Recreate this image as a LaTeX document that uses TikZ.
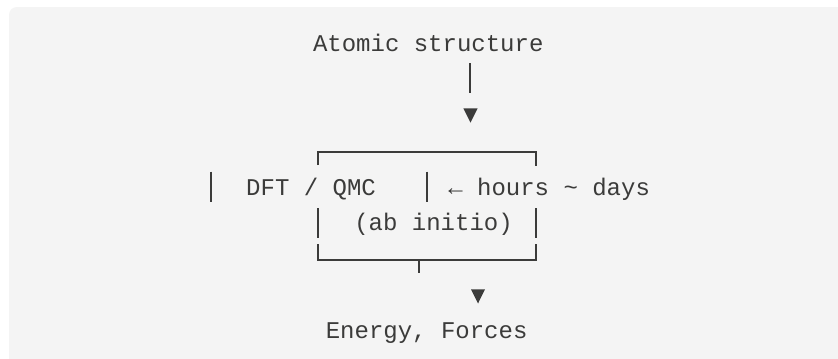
\documentclass[tikz,border=0pt]{standalone}
\usepackage{fontspec}
\setmonofont{Liberation Mono}
\definecolor{panel}{HTML}{F4F4F4}
\definecolor{ink}{HTML}{3B3B3A}
\tikzset{
  px/.style={x={(0.75pt,0)}, y={(0,-0.75pt)}},
  label/.style={anchor=base west, inner sep=0pt, outer sep=0pt, text=ink,
    font=\ttfamily\fontsize{18pt}{18pt}\selectfont},
  stroke/.style={draw=ink, line width=1.5pt, line cap=butt, line join=miter},
  tip/.style={fill=ink},
}
\begin{document}
\begin{tikzpicture}[px]
  \useasboundingbox (0,0) rectangle (838,358);
  \clip (0,0) rectangle (838,358);
  % light panel running off the right and bottom edges
  \fill[white] (0,0) rectangle (838,358);
  \fill[panel, rounded corners=6pt] (9,7) rectangle (860,380);

  % text lines
  \node[label] (atoms)  at (313,51)    {Atomic structure};
  \node[label] (dft)    at (246.2,195.7) {DFT / QMC};
  \node[label] (cost)   at (448.3,195.7) {← hours \textasciitilde{} days};
  \node[label] (abinit) at (354.3,230.5) {(ab initio)};
  \node[label] (out)    at (325.8,338.3) {Energy, Forces};

  % stem and head below the input
  \coordinate (stemA) at (470.3,63.3);
  \coordinate (stemB) at (470.3,93.3);
  \draw[stroke] (stemA) -- (stemB);
  \fill[tip] (463.3,108.3) -- (477.7,108.3) -- (470.5,122.7) -- cycle;

  % box top
  \coordinate (tl) at (318.3,152.3);
  \coordinate (tr) at (535.7,152.3);
  \draw[stroke] ([yshift=-12.7*0.75pt]tl) -- (tl) -- (tr) -- ([yshift=-13.7*0.75pt]tr);

  % side bars of the middle rows
  \draw[stroke] (210.7,171.7) -- (210.7,201.7);
  \draw[stroke] (426.7,171.7) -- (426.7,201.7);
  \draw[stroke] (318.3,208.3) -- (318.3,238.3);
  \draw[stroke] (535.7,208.3) -- (535.7,238.3);

  % box bottom with the tee
  \coordinate (bl) at (318.3,260);
  \coordinate (br) at (535.7,260);
  \coordinate (tee) at (419.3,260);
  \coordinate (teeEnd) at (419.3,273.3);
  \draw[stroke] (318.3,244) -- (bl) -- (br) -- (535.7,244);
  \draw[stroke] (tee) -- (teeEnd);

  % head above the output
  \fill[tip] (471,289.3) -- (485,289.3) -- (478,303.5) -- cycle;
\end{tikzpicture}
\end{document}
